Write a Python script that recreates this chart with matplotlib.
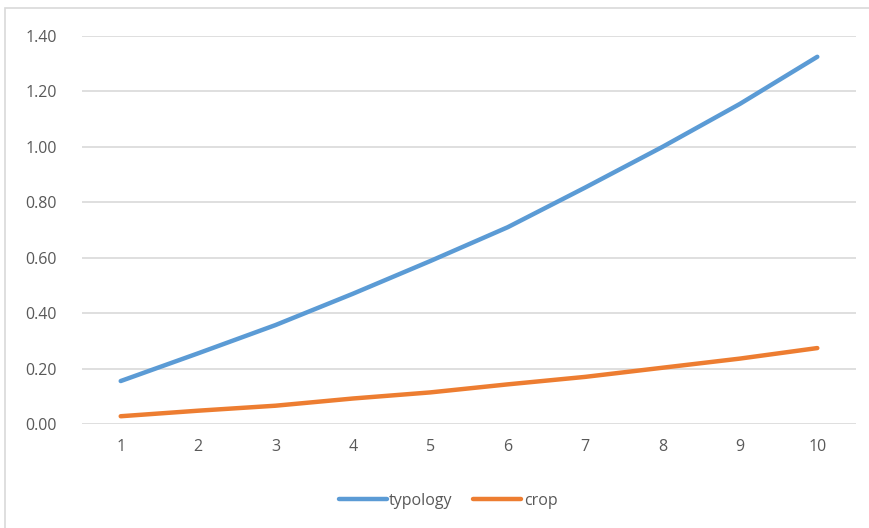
import matplotlib.pyplot as plt
from matplotlib.patches import Rectangle

# data
x_vals = [1, 2, 3, 4, 5, 6, 7, 8, 9, 10]
typology = [0.155, 0.255, 0.357, 0.470, 0.588, 0.710, 0.853, 1.000, 1.155, 1.325]
crop = [0.028, 0.048, 0.066, 0.092, 0.114, 0.143, 0.170, 0.203, 0.236, 0.274]
y_ticks = [0.0, 0.2, 0.4, 0.6, 0.8, 1.0, 1.2, 1.4]

plt.rcParams['font.family'] = ['Open Sans', 'DejaVu Sans']
text_color = '#595959'
grid_color = '#D9D9D9'

fig = plt.figure(figsize=(8.7, 5.28), dpi=100)
# chart frame (left/top visible, like the cropped reference)
fig.patches.append(Rectangle((5 / 870, -0.1), 1.2, 1 - 8 / 528 + 0.1,
                             transform=fig.transFigure, fill=False,
                             edgecolor='#D9D9D9', linewidth=1.2))

ax = fig.add_axes([82 / 870, 1 - 424 / 528, (856 - 82) / 870, (424 - 36) / 528])

ax.plot(x_vals, typology, color='#5B9BD5', linewidth=3.2, solid_capstyle='round', label='typology')
ax.plot(x_vals, crop, color='#ED7D31', linewidth=3.2, solid_capstyle='round', label='crop')

ax.set_xlim(0.5, 10.5)
ax.set_ylim(0, 1.4)
ax.set_yticks(y_ticks)
ax.set_yticklabels(['%.2f' % v for v in y_ticks])
ax.set_xticks(x_vals)
ax.set_xticklabels([str(v) for v in x_vals])

ax.grid(axis='y', color=grid_color, linewidth=1.2)
ax.set_axisbelow(True)
for s in ['top', 'right', 'left', 'bottom']:
    ax.spines[s].set_visible(False)
ax.tick_params(axis='both', length=0, colors=text_color, labelsize=11.5)
ax.tick_params(axis='y', pad=18)
ax.tick_params(axis='x', pad=11)

fig.legend(loc='center', bbox_to_anchor=(448 / 870, 1 - 501 / 528), ncol=2, frameon=False,
           fontsize=11.5, labelcolor=text_color, handlelength=3.0, handletextpad=0.15,
           columnspacing=1.3)

fig.savefig('out.png', dpi=100)
